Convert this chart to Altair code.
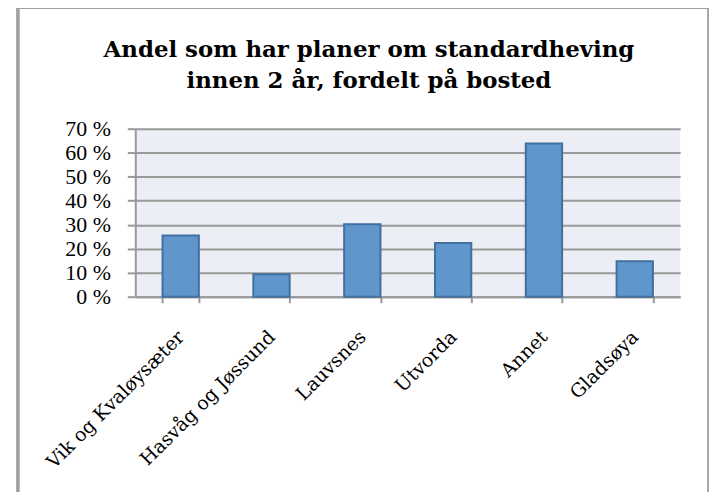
import altair as alt
import pandas as pd

categories = ["Vik og Kvaløysæter", "Hasvåg og Jøssund", "Lauvsnes", "Utvorda", "Annet", "Gladsøya"]
values = [25.5, 9.4, 30.2, 22.4, 63.8, 14.8]
y_ticks = [0, 10, 20, 30, 40, 50, 60, 70]
title_lines = ["Andel som har planer om standardheving", "innen 2 år, fordelt på bosted"]

df = pd.DataFrame({"bosted": categories, "andel": values})

W, H = 548, 169

bars = alt.Chart(df).mark_bar(
    color="#6096CC", stroke="#41709F", strokeWidth=2
).encode(
    x=alt.X("bosted:N", sort=categories, title=None,
            scale=alt.Scale(paddingInner=0.6, paddingOuter=0.3),
            axis=alt.Axis(labelAngle=-45, labelAlign="right", labelBaseline="middle",
                          labelFont="DejaVu Serif", labelFontSize=19, labelColor="#000000",
                          labelPadding=31, labelLimit=400, tickBand="extent", tickSize=6,
                          tickColor="#999999", tickWidth=2, domainColor="#999999",
                          domainWidth=2, grid=False)),
    y=alt.Y("andel:Q", title=None,
            scale=alt.Scale(domain=[0, 70], nice=False),
            axis=alt.Axis(values=y_ticks, labelExpr="datum.value + ' %'",
                          labelFont="Liberation Serif", labelFontSize=22, labelColor="#000000",
                          labelPadding=17, tickSize=8, tickColor="#999999", tickWidth=2,
                          domainColor="#999999", domainWidth=2,
                          grid=True, gridColor="#999999", gridWidth=2))
)

frame = alt.Chart(df).mark_rect(
    fill=None, stroke="#A0A0A0", strokeWidth=2.5
).encode(
    x=alt.value(-118), x2=alt.value(577),
    y=alt.value(-122), y2=alt.value(400)
)

chart = alt.layer(frame, bars).properties(
    width=W, height=H,
    title=alt.TitleParams(title_lines, anchor="middle", fontSize=23, font="DejaVu Serif",
                          fontWeight="bold", color="#000000", dx=-39, offset=0, dy=105,
                          baseline="alphabetic", lineHeight=31),
    autosize=alt.AutoSizeParams(type="none"),
    padding={"left": 128, "top": 120, "right": 29, "bottom": 195},
).configure_view(
    fill="#EBEEF4", stroke=None
)

chart.save("out.html", embed_options={"renderer": "svg", "actions": False})
